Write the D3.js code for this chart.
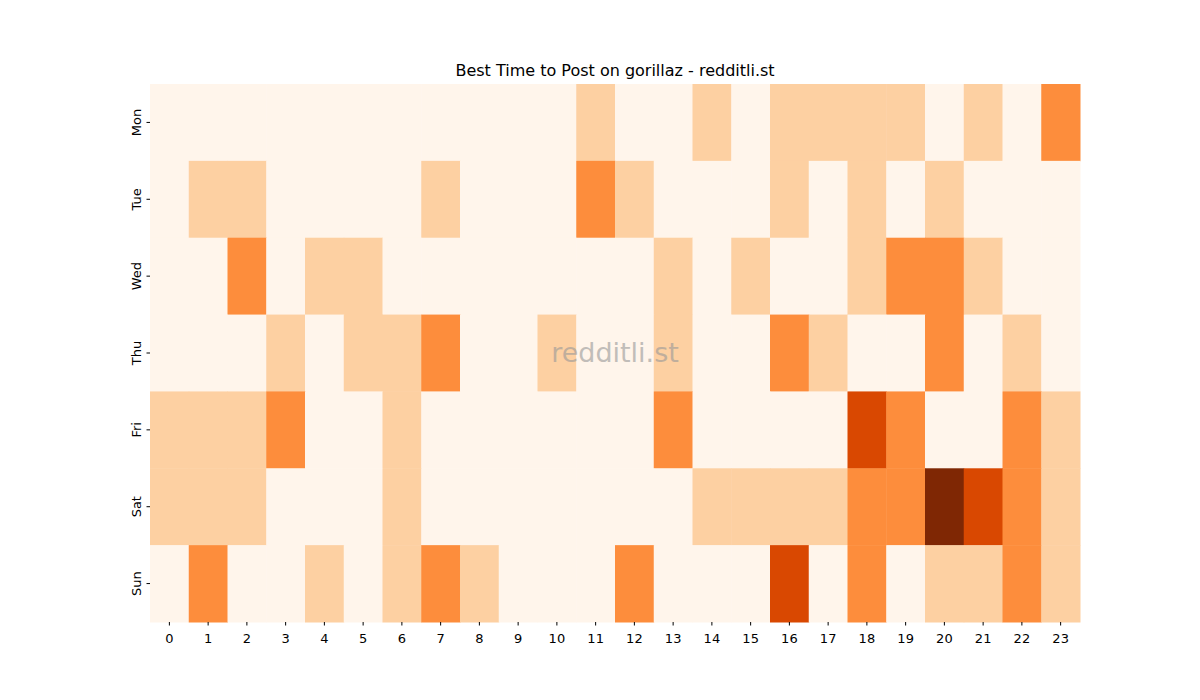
<!DOCTYPE html>
<html><head><meta charset="utf-8">
<script src="https://cdn.jsdelivr.net/npm/d3@7"></script>
<style>body{margin:0;background:#fff;font-family:"DejaVu Sans",sans-serif;}</style>
</head><body><svg id="c" width="1200" height="700"></svg>
<script>
const days = ["Mon","Tue","Wed","Thu","Fri","Sat","Sun"];
const hours = d3.range(24).map(String);
const mon = [0,0,0,0,0,0,0,0,0,0,0,1,0,0,1,0,1,1,1,1,0,1,0,2];
const tue = [0,1,1,0,0,0,0,1,0,0,0,2,1,0,0,0,1,0,1,0,1,0,0,0];
const wed = [0,0,2,0,1,1,0,0,0,0,0,0,0,1,0,1,0,0,1,2,2,1,0,0];
const thu = [0,0,0,1,0,1,1,2,0,0,1,0,0,1,0,0,2,1,0,0,2,0,1,0];
const fri = [1,1,1,2,0,0,1,0,0,0,0,0,0,2,0,0,0,0,3,2,0,0,2,1];
const sat = [1,1,1,0,0,0,1,0,0,0,0,0,0,0,1,1,1,1,2,2,4,3,2,1];
const sun = [0,2,0,0,1,0,1,2,1,0,0,0,2,0,0,0,3,0,2,0,1,1,2,1];
const rows = [mon,tue,wed,thu,fri,sat,sun];
const levelColors = ["#fff5eb","#fdd0a2","#fd8d3c","#d94801","#7f2704"];

const svg = d3.select("#c");
const x = d3.scaleBand().domain(hours).range([150,1080]);
const y = d3.scaleBand().domain(days).range([84,622]);
const color = d3.scaleOrdinal().domain([0,1,2,3,4]).range(levelColors);

const cells = [];
rows.forEach((r,i)=>r.forEach((v,j)=>cells.push({d:days[i],h:hours[j],v})));
svg.selectAll("rect.cell").data(cells).join("rect")
  .attr("x",d=>x(d.h)).attr("y",d=>y(d.d))
  .attr("width",x.bandwidth()+0.5).attr("height",y.bandwidth()+0.5)
  .attr("fill",d=>color(d.v));

const xa = svg.append("g").attr("transform","translate(0,622)").call(d3.axisBottom(x).tickSize(3.5));
const ya = svg.append("g").attr("transform","translate(150,0)").call(d3.axisLeft(y).tickSize(3.5));
[xa,ya].forEach(a=>{a.select(".domain").remove();a.selectAll("text").attr("font-size",13).attr("font-family","DejaVu Sans").attr("fill","#000");});
xa.selectAll("text").attr("dy","1.1em");
ya.selectAll("text").attr("transform",function(){const t=d3.select(this);return null;});
ya.selectAll(".tick text").attr("text-anchor","middle").attr("x",null).attr("dy",null)
  .attr("transform","translate(-14,0) rotate(-90)").attr("dominant-baseline","central");

svg.append("text").attr("x",615).attr("y",76).attr("text-anchor","middle")
  .attr("font-size",16).attr("font-family","DejaVu Sans").text("Best Time to Post on gorillaz - redditli.st");
svg.append("text").attr("x",615).attr("y",362).attr("text-anchor","middle")
  .attr("font-size",27).attr("font-family","DejaVu Sans").attr("fill","#999").attr("opacity",0.6).text("redditli.st");
</script></body></html>
